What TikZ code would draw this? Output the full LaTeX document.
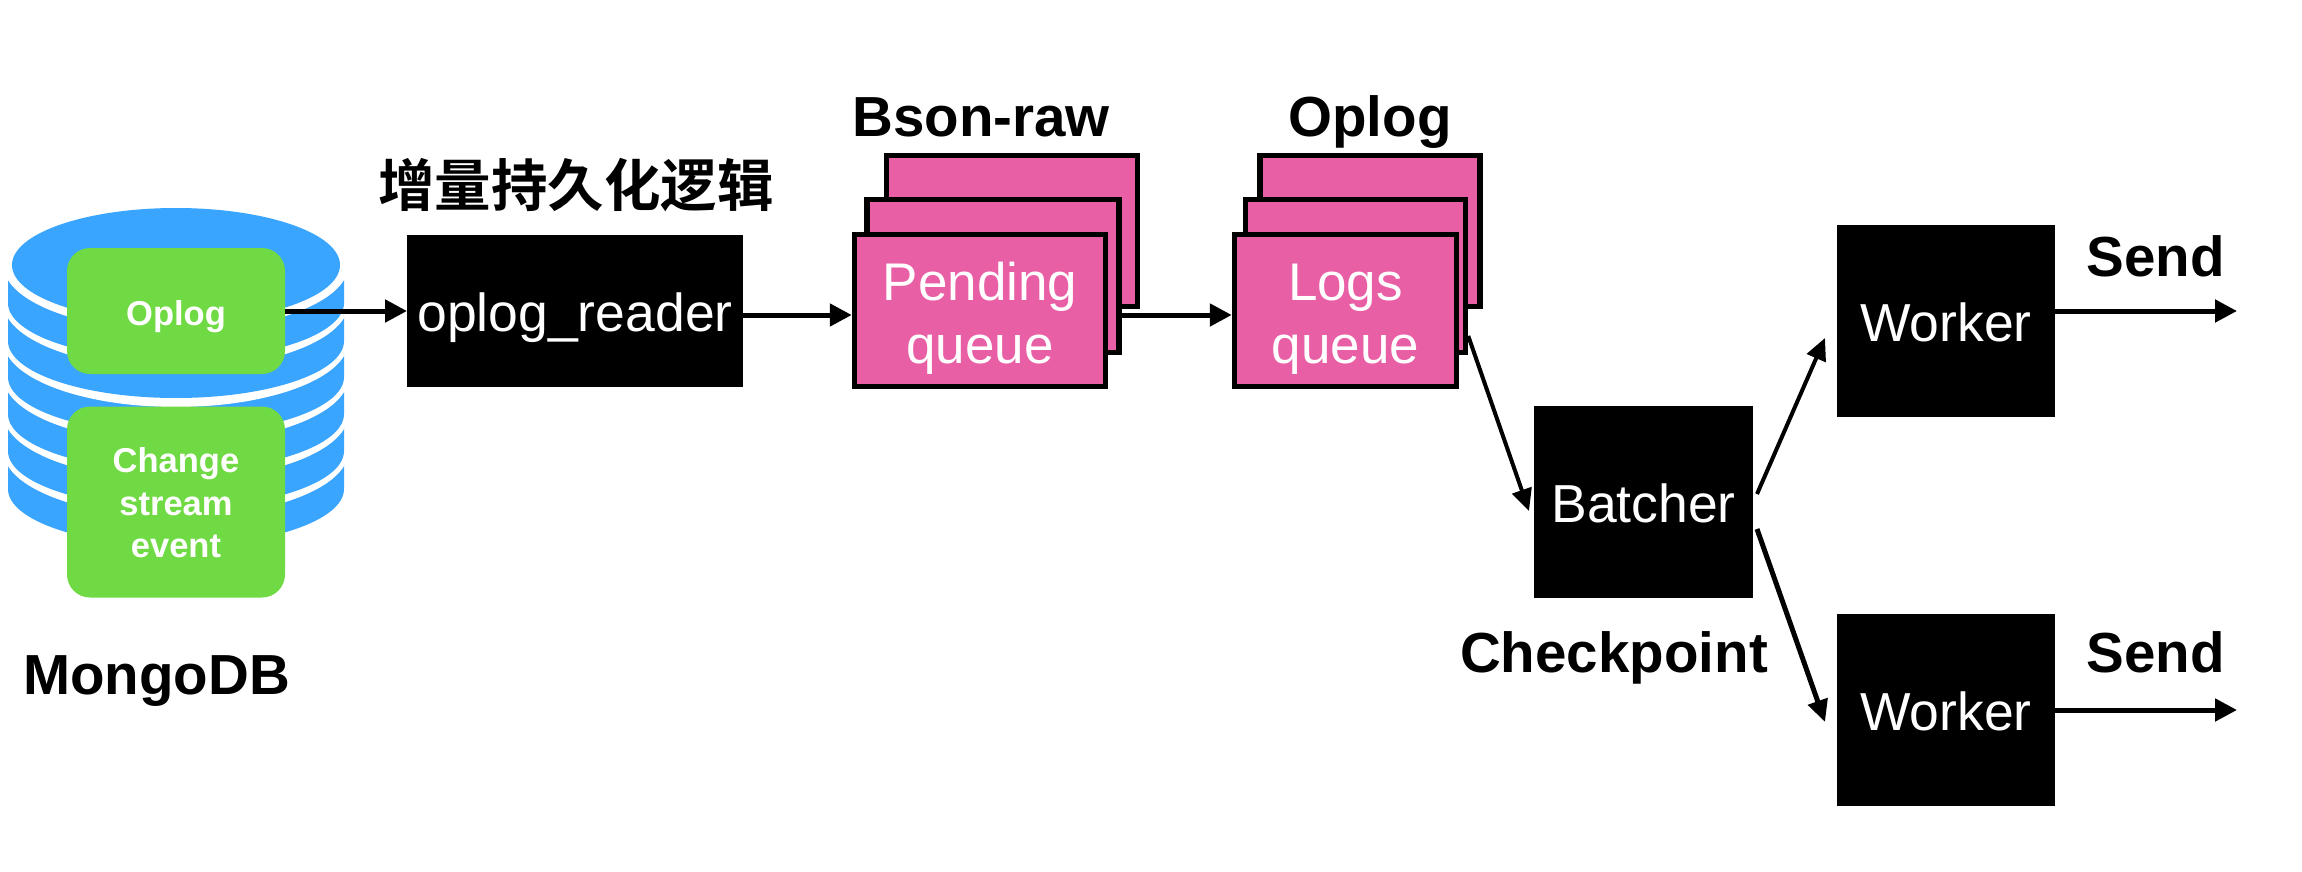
\documentclass[tikz,border=0pt]{standalone}
\usepackage{fontspec}
\setmainfont{Liberation Sans}
\newfontfamily\cjkfont{Noto Sans CJK SC}[BoldFont={* Bold}]
\usetikzlibrary{arrows.meta, positioning}
\definecolor{dbBlue}{HTML}{3AA5FF}
\definecolor{opGreen}{HTML}{70DA44}
\definecolor{queuePink}{HTML}{E95FA6}

\begin{document}
\begin{tikzpicture}[
    x=1pt, y=-1pt,
    flow/.style={-{Triangle[length=22pt,width=22pt]}, line width=5pt},
    slim/.style={-{Triangle[length=22pt,width=20pt]}, line width=4pt},
    blackbox/.style={rectangle, fill=black, text=white, inner sep=0pt, outer sep=0pt,
                 text height=41pt, text depth=0pt,
                 font=\fontsize{53.5}{63}\selectfont, align=center},
    greenbox/.style={rectangle, rounded corners=23pt, fill=opGreen, text=white,
                 minimum width=218pt, inner sep=0pt, outer sep=0pt,
                 font=\fontsize{34.5}{42.5}\selectfont\bfseries, align=center},
    queue/.style={rectangle, draw=black, line width=5.5pt, fill=queuePink, text=white,
                 inner sep=0pt, font=\fontsize{53}{63}\selectfont, align=center},
    title/.style={anchor=base, inner sep=0pt, font=\fontsize{56.5}{60}\selectfont\bfseries},
  ]
    \useasboundingbox (0,0) rectangle (2302,872);

    % disk layers, lowest first
    \foreach \ypos/\yup in {489/451, 451/414, 414/377, 377/341, 341/303, 303/265} {
      \fill[dbBlue] (8,\yup) -- (8,\ypos) arc[start angle=180, end angle=0, x radius=168, y radius=57]
        -- (344,\yup) -- cycle;
      \fill[white] (176,\yup) ellipse[x radius=172.5, y radius=66];
    }
    \fill[dbBlue] (176,265) ellipse[x radius=164, y radius=57];

    \node[greenbox, minimum height=126pt, text height=28pt, text depth=0pt] (oplog) at (176,311) {Oplog};
    \node[greenbox, minimum height=191pt, text height=111pt, text depth=0pt] (change) at (176,502) {Change\\stream\\event};
    \node[title] (mongo) at (156.5,694) {MongoDB};

    \node[blackbox, minimum width=336pt, minimum height=152pt] (reader) at (575,311) {oplog\_reader};
    \node[title] (persist) at (576,206) {\cjkfont 增量持久化逻辑};

    \node[queue, minimum width=251pt, minimum height=151pt] (pendingC) at (1012,231) {};
    \node[queue, minimum width=252pt, minimum height=153pt] (pendingB) at (993,276) {};
    \node[queue, minimum width=251pt, minimum height=152pt, text height=106pt, text depth=0pt] (pendingA) at (980,310.5) {Pending\\queue};
    \node[title] (bson) at (981,137) {Bson-raw};

    \node[queue, minimum width=220pt, minimum height=151pt] (logsC) at (1370,231) {};
    \node[queue, minimum width=220pt, minimum height=153pt] (logsB) at (1355.5,276) {};
    \node[queue, minimum width=222pt, minimum height=152pt, text height=106pt, text depth=0pt] (logsA) at (1345.5,310.5) {Logs\\queue};
    \node[title] (oplogtitle) at (1370,136) {Oplog};

    \node[blackbox, minimum width=219pt, minimum height=192pt] (batcher) at (1643.5,502) {Batcher};
    \node[title] (checkpoint) at (1614,672) {Checkpoint};

    \node[blackbox, minimum width=218pt, minimum height=192pt] (workerA) at (1946,321) {Worker};
    \node[blackbox, minimum width=218pt, minimum height=192pt] (workerB) at (1946,710) {Worker};
    \node[title] (sendA) at (2155.5,276) {Send};
    \node[title] (sendB) at (2155.5,672) {Send};
    \coordinate (outA) at (2237,311);
    \coordinate (outB) at (2237,710);
    \coordinate (flowline) at (0,315);

    \draw[flow] (oplog.east) -- (oplog.east -| reader.west);
    \draw[flow] (reader.east |- flowline) -- (pendingA.west |- flowline);
    \draw[flow] (pendingB.east |- flowline) -- (logsA.west |- flowline);
    \draw[slim] ([yshift=-60pt]logsB.east) -- ([xshift=-5pt,yshift=-9pt]batcher.west);
    \draw[slim] ([xshift=4pt,yshift=8pt]batcher.east) -- ([xshift=-12pt,yshift=-17pt]workerA.west);
    \draw[slim, line width=5pt] ([xshift=4pt,yshift=-27pt]batcher.east) -- ([xshift=-12pt,yshift=-12pt]workerB.west);
    \draw[flow] (workerA.east |- outA) -- (outA);
    \draw[flow] (workerB.east) -- (outB);
  \end{tikzpicture}
\end{document}
